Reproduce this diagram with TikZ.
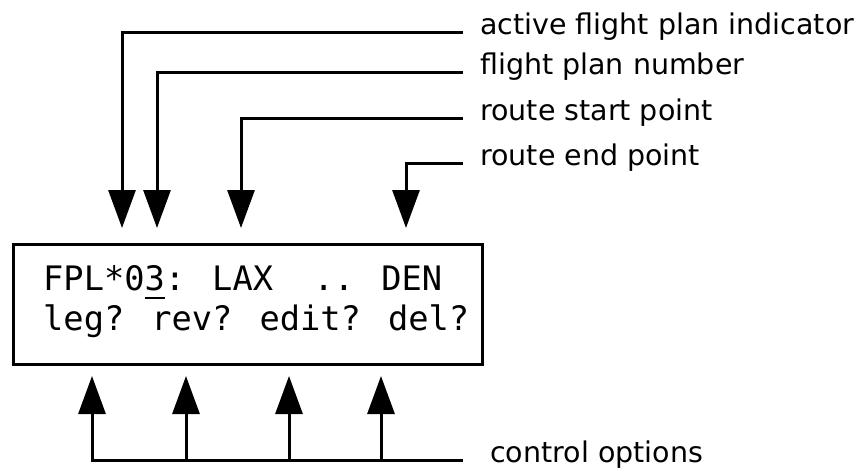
\documentclass[tikz,border=0pt]{standalone}
\usepackage{fontspec}
\setmainfont{DejaVu Sans}
\newfontfamily\lcdfont{DejaVu Sans Mono}
\usetikzlibrary{arrows.meta,calc}

% cursor mark under one LCD character
\newcommand\lcdcursor[1]{\rlap{\rule[-9.3pt]{0.6em}{2.5pt}}#1}

\tikzset{
  wire/.style={line width=3pt, line join=miter},
  pointer/.style={wire, -{Triangle[length=38pt,width=27pt]}},
  lbl/.style={anchor=mid west, inner xsep=17pt, inner ysep=0pt,
    font=\fontsize{28.5}{32}\selectfont},
  lcdrow/.style={anchor=base west, inner sep=0pt,
    font=\lcdfont\fontsize{33.7}{40}\selectfont},
  display/.style={draw, line width=3pt, minimum width=469pt,
    minimum height=120pt, inner sep=0pt}
}

\begin{document}
\begin{tikzpicture}[x=1pt,y=-1pt]
  \useasboundingbox (0,0) rectangle (859,471);

  % display panel with its two text rows
  \node[display] (lcd) at (247.5,304) {};
  \node[lcdrow] (row1) at (43,290) {FPL*0\lcdcursor{3}: LAX~~.. DEN};
  \node[lcdrow] (row2) at (43,330) {leg? rev? edit? del?};

  % labels above the panel
  \node[lbl] (lab1) at (463,32)  {active flight plan indicator};
  \node[lbl] (lab2) at (463,72)  {flight plan number};
  \node[lbl] (lab3) at (463,118) {route start point};
  \node[lbl] (lab4) at (463,163) {route end point};

  % label below the panel
  \node[lbl, inner xsep=27pt] (opts) at (463,460) {control options};

  % arrow tips above the panel
  \coordinate (a1) at (122,228);
  \coordinate (a2) at (157,228);
  \coordinate (a3) at (241,228);
  \coordinate (a4) at (406,228);

  % arrow tips below the panel
  \coordinate (b1) at (92,376);
  \coordinate (b2) at (186,376);
  \coordinate (b3) at (289,376);
  \coordinate (b4) at (381,376);

  \draw[pointer] (lab1.mid west) -| (a1);
  \draw[pointer] (lab2.mid west) -| (a2);
  \draw[pointer] (lab3.mid west) -| (a3);
  \draw[pointer] (lab4.mid west) -| (a4);

  \draw[pointer] (opts.mid west) -| (b1);
  \foreach \c in {b2,b3,b4}
    \draw[pointer] (\c |- opts.mid west) -- (\c);
\end{tikzpicture}
\end{document}
